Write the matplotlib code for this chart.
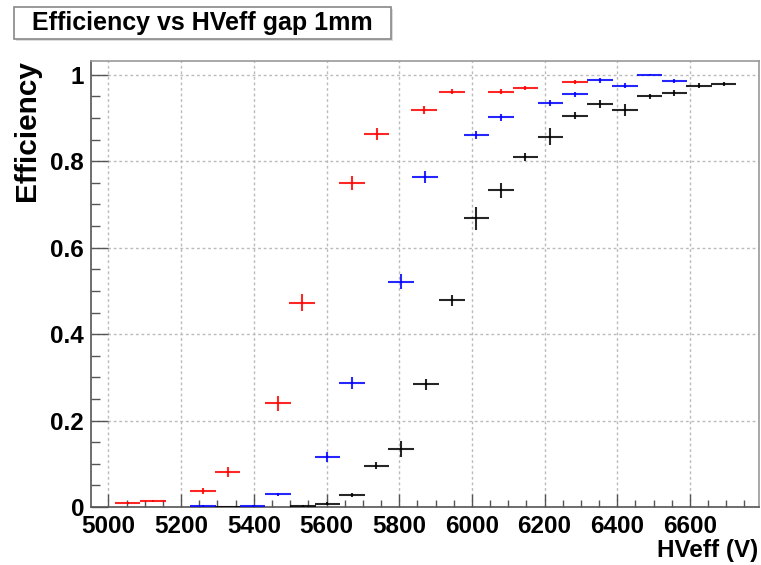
import numpy as np
import matplotlib
matplotlib.use("Agg")
from matplotlib import pyplot as plt
from matplotlib.patches import Rectangle
from matplotlib.ticker import MultipleLocator, FuncFormatter

plt.rcParams['font.family'] = ['Liberation Sans', 'DejaVu Sans']
plt.rcParams['font.weight'] = 'bold'

# red series
hv_red = [5053, 5122, 5260, 5328, 5466, 5533, 5670, 5738, 5868, 5945, 6080, 6147, 6284]
eff_red = [0.009, 0.014, 0.037, 0.081, 0.240, 0.473, 0.750, 0.864, 0.918, 0.961, 0.961, 0.970, 0.983]
err_red = [0.002, 0.003, 0.007, 0.011, 0.017, 0.020, 0.017, 0.014, 0.009, 0.006, 0.006, 0.005, 0.004]

# blue series
hv_blue = [5260, 5397, 5466, 5602, 5670, 5805, 5871, 6012, 6080, 6216, 6284, 6353, 6421, 6489, 6557]
eff_blue = [0.003, 0.003, 0.029, 0.116, 0.286, 0.521, 0.763, 0.861, 0.902, 0.934, 0.955, 0.987, 0.975, 1.000, 0.986]
err_blue = [0.002, 0.002, 0.004, 0.011, 0.014, 0.017, 0.014, 0.009, 0.008, 0.007, 0.006, 0.005, 0.006, 0.001, 0.004]

# black series
hv_black = [5328, 5535, 5602, 5670, 5737, 5805, 5874, 5945, 6012, 6080, 6147, 6216, 6284,
            6353, 6421, 6489, 6557, 6625, 6693]
eff_black = [0.000, 0.003, 0.008, 0.027, 0.096, 0.134, 0.284, 0.478, 0.668, 0.733, 0.810, 0.857,
             0.905, 0.932, 0.918, 0.950, 0.958, 0.975, 0.979]
err_black = [0.001, 0.002, 0.003, 0.005, 0.008, 0.019, 0.013, 0.012, 0.027, 0.017, 0.009, 0.019,
             0.008, 0.009, 0.014, 0.005, 0.006, 0.006, 0.004]

hv_halfwidth = 35

fig = plt.figure(figsize=(7.61, 5.65), dpi=100)
ax = fig.add_axes([91/761, 58/565, 668/761, 446/565])

for hv, eff, err, col in [(hv_red, eff_red, err_red, 'red'),
                          (hv_blue, eff_blue, err_blue, 'blue'),
                          (hv_black, eff_black, err_black, 'black')]:
    ax.errorbar(hv, eff, xerr=hv_halfwidth, yerr=err, fmt='none', ecolor=col,
                elinewidth=1.5, capsize=0, alpha=0.85, zorder=3)

ax.set_xlim(4952, 6790)
ax.set_ylim(0, 1.032)

ax.set_xticks([5000, 5200, 5400, 5600, 5800, 6000, 6200, 6400, 6600])
ax.xaxis.set_minor_locator(MultipleLocator(50))
ax.yaxis.set_major_locator(MultipleLocator(0.2))
ax.yaxis.set_minor_locator(MultipleLocator(0.05))
ax.yaxis.set_major_formatter(FuncFormatter(lambda v, p: '%g' % round(v, 2)))

ax.tick_params(axis='x', which='major', direction='in', length=9.5, width=1, color='#555555',
               labelsize=17.5, pad=6)
ax.tick_params(axis='x', which='minor', direction='in', length=4.8, width=1, color='#555555')
ax.tick_params(axis='y', which='major', direction='in', length=12, width=1, color='#555555',
               labelsize=17.5, pad=5)
ax.tick_params(axis='y', which='minor', direction='in', length=6.5, width=1, color='#555555')

for s in ['left', 'bottom']:
    ax.spines[s].set_color('#555555')
    ax.spines[s].set_linewidth(1.2)
for s in ['top', 'right']:
    ax.spines[s].set_color('#999999')
    ax.spines[s].set_linewidth(1.2)

ax.grid(True, which='major', color='#bbbbbb', linestyle=(0, (2, 2)), linewidth=1)
ax.set_axisbelow(True)

fig.text(758/761, 1 - 557/565, 'HVeff (V)', ha='right', va='baseline', fontsize=17.5,
         fontweight='bold')
fig.text(27/761, 1 - 60/565, 'Efficiency', rotation=90, ha='center', va='top', fontsize=21.5,
         fontweight='bold')

# title box
fig.patches.append(Rectangle((16/761, 1 - 41/565), 377/761, 32/565, transform=fig.transFigure,
                             facecolor='#dddddd', edgecolor='none', zorder=1))
fig.patches.append(Rectangle((14/761, 1 - 39/565), 377/761, 32/565, transform=fig.transFigure,
                             facecolor='white', edgecolor='#888888', linewidth=1.2, zorder=2))
fig.text(202/761, 1 - 23/565, 'Efficiency vs HVeff gap 1mm', ha='center', va='center',
         fontsize=18, fontweight='bold', zorder=3)

fig.savefig('out.png', dpi=100)
